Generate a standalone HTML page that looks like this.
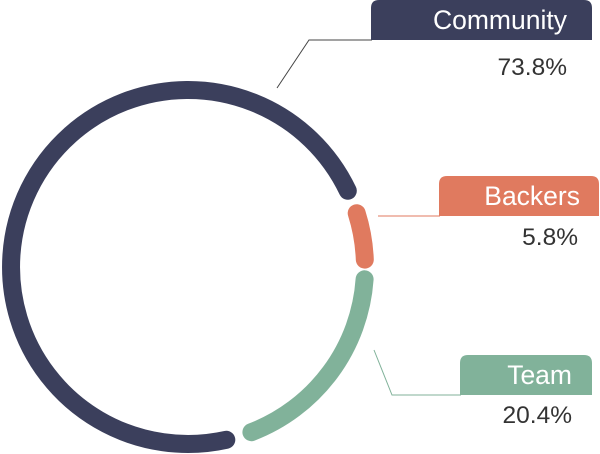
<!DOCTYPE html>
<html><head><meta charset="utf-8"><style>
html,body{margin:0;padding:0;background:#fff;}
body{width:600px;height:454px;overflow:hidden;position:relative;font-family:"Liberation Sans",sans-serif;}
</style></head><body>
<svg width="600" height="454" viewBox="0 0 600 454" xmlns="http://www.w3.org/2000/svg" style="position:absolute;left:0;top:0">
<g fill="none" stroke-width="18" stroke-linecap="round">
<path d="M226.3 439.8 A177 177 0 1 1 347.8 190.8" stroke="#3b3f5c"/>
<path d="M356.7 213.2 A177 177 0 0 1 364.8 259.6" stroke="#e07a5f"/>
<path d="M364.6 279.3 A177 177 0 0 1 251.4 432.2" stroke="#81b29a"/>
</g>
<polyline points="277,88 309,40 372,40" fill="none" stroke="#444" stroke-width="1"/>
<line x1="378" y1="216" x2="440" y2="216" stroke="#e07a5f" stroke-width="1"/>
<polyline points="374,350 392,395 461,395" fill="none" stroke="#81b29a" stroke-width="1"/>
<path d="M371 40 V8 Q371 0 379 0 H584 Q592 0 592 8 V40 Z" fill="#3b3f5c"/>
<path d="M439 216 V184 Q439 176 447 176 H591 Q599 176 599 184 V216 Z" fill="#e07a5f"/>
<path d="M460 395 V363 Q460 355 468 355 H584 Q592 355 592 363 V395 Z" fill="#81b29a"/>
<g font-family="Liberation Sans, sans-serif" font-size="26.5" text-anchor="end">
<text x="567" y="29" fill="#fff">Community</text>
<text x="580" y="205" fill="#fff">Backers</text>
<text x="572" y="384" fill="#fff">Team</text>
<text x="567" y="75" fill="#333" font-size="24.5">73.8%</text>
<text x="578" y="245" fill="#333" font-size="24.5">5.8%</text>
<text x="572" y="423" fill="#333" font-size="24.5">20.4%</text>
</g>
</svg>
</body></html>
